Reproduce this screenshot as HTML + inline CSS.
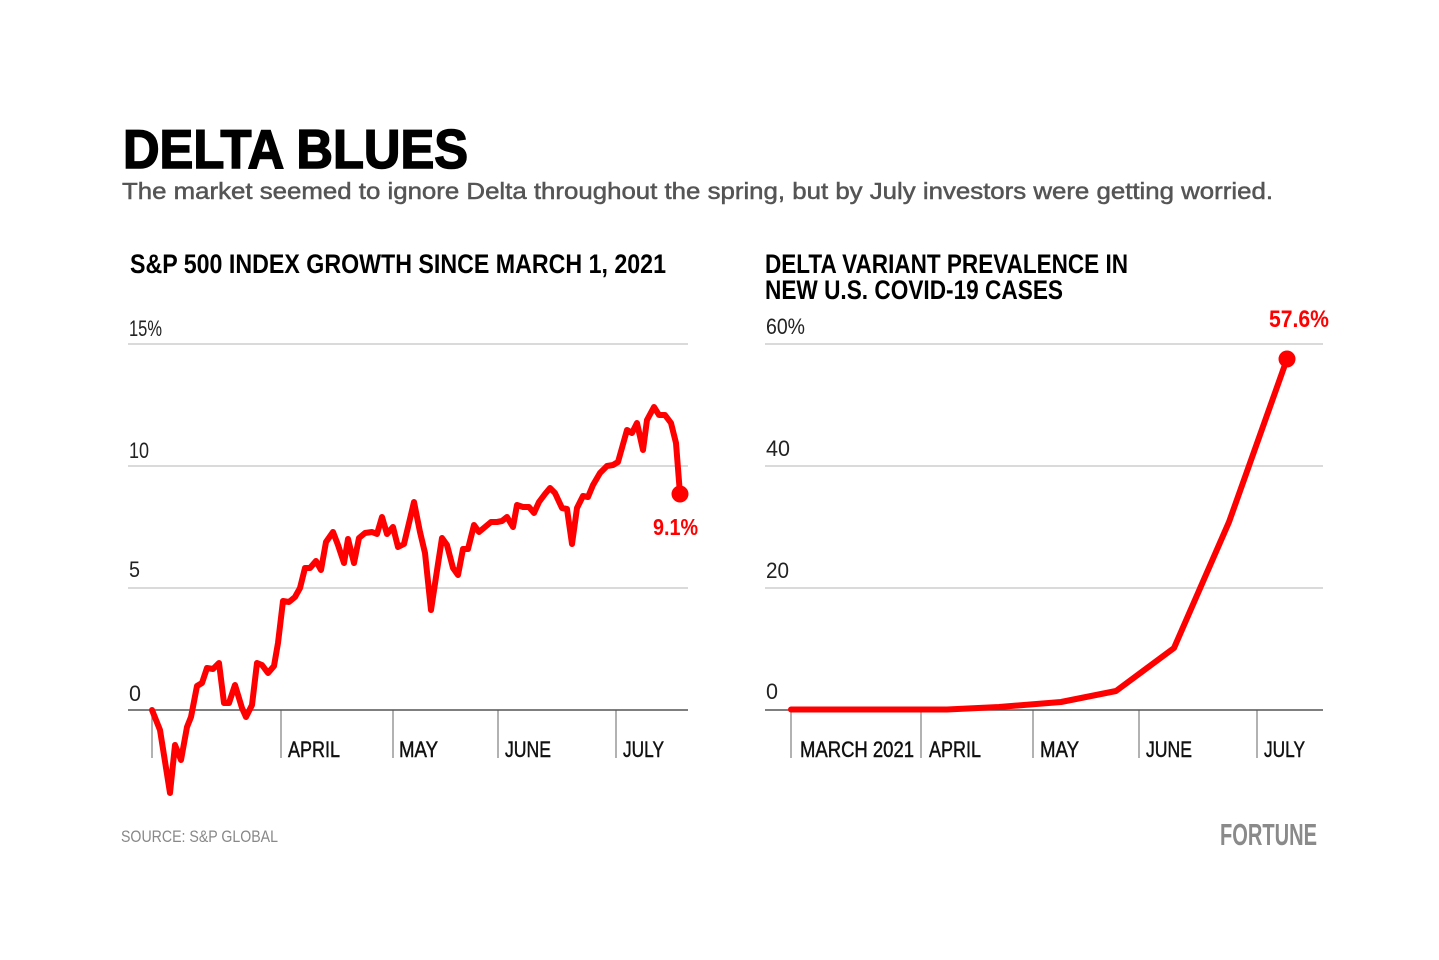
<!DOCTYPE html>
<html>
<head>
<meta charset="utf-8">
<style>
html,body{margin:0;padding:0;background:#fff;}
svg{display:block;}
text{font-family:"Liberation Sans",Arial,sans-serif;}
</style>
</head>
<body>
<svg width="1439" height="960" viewBox="0 0 1439 960" xmlns="http://www.w3.org/2000/svg">
<rect x="0" y="0" width="1439" height="960" fill="#fff"/>

<!-- Title -->
<text x="123" y="168" font-size="55" font-weight="bold" fill="#000" stroke="#000" stroke-width="1.6" textLength="345" lengthAdjust="spacingAndGlyphs">DELTA BLUES</text>
<text x="122" y="199" font-size="23" fill="#555" stroke="#555" stroke-width="0.5" textLength="1151" lengthAdjust="spacingAndGlyphs">The market seemed to ignore Delta throughout the spring, but by July investors were getting worried.</text>

<!-- Chart titles -->
<text x="130" y="273" font-size="27" font-weight="bold" fill="#000" textLength="536" lengthAdjust="spacingAndGlyphs">S&amp;P 500 INDEX GROWTH SINCE MARCH 1, 2021</text>
<text x="765" y="273" font-size="27" font-weight="bold" fill="#000" textLength="363" lengthAdjust="spacingAndGlyphs">DELTA VARIANT PREVALENCE IN</text>
<text x="765" y="299" font-size="27" font-weight="bold" fill="#000" textLength="298" lengthAdjust="spacingAndGlyphs">NEW U.S. COVID-19 CASES</text>

<!-- Gridlines -->
<g stroke="#dadada" stroke-width="2">
<line x1="128" y1="344" x2="688" y2="344"/>
<line x1="128" y1="466" x2="688" y2="466"/>
<line x1="128" y1="588" x2="688" y2="588"/>
<line x1="765" y1="344" x2="1323" y2="344"/>
<line x1="765" y1="466" x2="1323" y2="466"/>
<line x1="765" y1="588" x2="1323" y2="588"/>
</g>

<!-- Ticks -->
<g stroke="#888" stroke-width="1.3">
<line x1="152" y1="710" x2="152" y2="758"/>
<line x1="281" y1="710" x2="281" y2="758"/>
<line x1="393" y1="710" x2="393" y2="758"/>
<line x1="498" y1="710" x2="498" y2="758"/>
<line x1="616" y1="710" x2="616" y2="758"/>
<line x1="791" y1="710" x2="791" y2="758"/>
<line x1="921" y1="710" x2="921" y2="758"/>
<line x1="1033" y1="710" x2="1033" y2="758"/>
<line x1="1139" y1="710" x2="1139" y2="758"/>
<line x1="1257" y1="710" x2="1257" y2="758"/>
</g>

<!-- Zero lines -->
<g stroke="#555" stroke-width="1.6">
<line x1="128" y1="710" x2="688" y2="710"/>
<line x1="765" y1="710" x2="1323" y2="710"/>
</g>

<!-- Y labels -->
<g font-size="22" fill="#222">
<text x="129" y="336" textLength="33" lengthAdjust="spacingAndGlyphs">15%</text>
<text x="129" y="458" textLength="20" lengthAdjust="spacingAndGlyphs">10</text>
<text x="129" y="577" textLength="11" lengthAdjust="spacingAndGlyphs">5</text>
<text x="129" y="701" textLength="12" lengthAdjust="spacingAndGlyphs">0</text>
<text x="766" y="334" textLength="39" lengthAdjust="spacingAndGlyphs">60%</text>
<text x="766" y="456" textLength="24" lengthAdjust="spacingAndGlyphs">40</text>
<text x="766" y="578" textLength="23" lengthAdjust="spacingAndGlyphs">20</text>
<text x="766" y="699" textLength="12" lengthAdjust="spacingAndGlyphs">0</text>
</g>

<!-- X labels -->
<g font-size="22" fill="#111" stroke="#111" stroke-width="0.45">
<text x="288" y="757" textLength="52" lengthAdjust="spacingAndGlyphs">APRIL</text>
<text x="399" y="757" textLength="39" lengthAdjust="spacingAndGlyphs">MAY</text>
<text x="505" y="757" textLength="46" lengthAdjust="spacingAndGlyphs">JUNE</text>
<text x="623" y="757" textLength="41" lengthAdjust="spacingAndGlyphs">JULY</text>
<text x="800" y="757" textLength="114" lengthAdjust="spacingAndGlyphs">MARCH 2021</text>
<text x="929" y="757" textLength="52" lengthAdjust="spacingAndGlyphs">APRIL</text>
<text x="1040" y="757" textLength="39" lengthAdjust="spacingAndGlyphs">MAY</text>
<text x="1146" y="757" textLength="46" lengthAdjust="spacingAndGlyphs">JUNE</text>
<text x="1264" y="757" textLength="41" lengthAdjust="spacingAndGlyphs">JULY</text>
</g>

<!-- Left series -->
<polyline fill="none" stroke="#ff0000" stroke-width="6" stroke-linejoin="round" stroke-linecap="round" points="152,710 160,730 170,793 175,745 181,760 187,727 191,717 197,686 202,683 207,668 213,669 219,663 224,703 229,703 235,685 242,708 246,717 252,705 257,663 262,665 268,673 274,666 278,643 283,601 289,602 295,597 300,588 305,568 310,568 316,561 321,570 326,542 333,532 338,545 344,563 348,539 354,563 359,538 365,533 372,532 377,534 382,517 387,534 393,527 398,547 404,544 414,502 420,532 425,553 431,610 436,577 442,538 447,545 453,568 458,575 463,549 468,549 474,525 479,532 485,527 491,522 497,522 502,521 507,517 513,527 517,505 523,507 529,507 534,513 539,502 545,494 550,488 555,493 562,508 567,509 572,544 577,508 583,496 588,497 593,485 600,473 607,466 613,465 618,462 627,430 632,433 637,423 643,450 647,420 654,407 659,415 665,415 671,423 676,443 680,494"/>
<circle cx="680" cy="494" r="8.5" fill="#ff0000"/>
<text x="653" y="535" font-size="23" font-weight="bold" fill="#ff0000" textLength="45" lengthAdjust="spacingAndGlyphs">9.1%</text>

<!-- Right series -->
<polyline fill="none" stroke="#ff0000" stroke-width="6" stroke-linejoin="round" stroke-linecap="round" points="791,709.5 947,709.5 999,707 1061,702 1116,691 1174,648 1229,522 1287,359"/>
<circle cx="1287" cy="359" r="8.5" fill="#ff0000"/>
<text x="1269" y="327" font-size="24" font-weight="bold" fill="#ff0000" textLength="60" lengthAdjust="spacingAndGlyphs">57.6%</text>

<!-- Footer -->
<text x="121" y="842" font-size="17" fill="#888" textLength="157" lengthAdjust="spacingAndGlyphs">SOURCE: S&amp;P GLOBAL</text>
<text x="1220" y="845" font-size="31" font-weight="bold" fill="#8a8a8a" textLength="97" lengthAdjust="spacingAndGlyphs">FORTUNE</text>
</svg>
</body>
</html>
